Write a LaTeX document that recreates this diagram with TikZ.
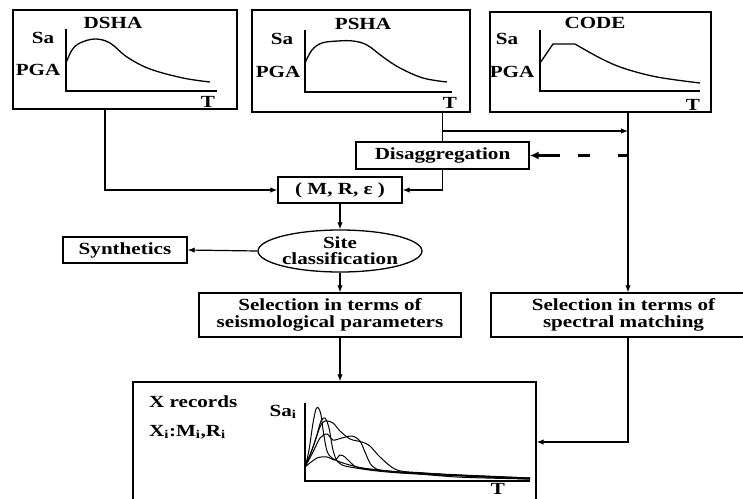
\documentclass[tikz,border=0pt]{standalone}
\usepackage{fontspec}
\setmainfont{Liberation Serif}[FakeStretch=1.24]
\usetikzlibrary{arrows.meta,shapes.geometric}
\newcommand\lbl{\fontsize{17}{17}\selectfont\bfseries}

\tikzset{
  box/.style={draw, line width=1.3pt, inner sep=0pt, font=\lbl, align=center},
  txt/.style={inner sep=0pt, font=\lbl},
  axis/.style={line width=1.2pt},
  spectrum/.style={line width=1.3pt},
  record/.style={line width=1pt},
  arr/.style={line width=1.2pt, -{Latex[length=7pt,width=5.5pt]}},
  link/.style={line width=1.2pt},
  dasharr/.style={line width=2.4pt,
    dash pattern=on 10pt off 28pt on 12pt off 18pt on 60pt off 1pt,
    -{Latex[length=9pt,width=8pt]}},
}

\begin{document}
\begin{tikzpicture}[x=1pt,y=-1pt]
\clip (0,0) rectangle (743,498);
\fill[white] (0,0) rectangle (743,498);

% ---- three hazard spectra ----
\node[box, minimum width=224pt, minimum height=99pt] (dsha) at (125,59.5) {};
\node[box, minimum width=218pt, minimum height=102pt] (psha) at (361,61) {};
\node[box, minimum width=221pt, minimum height=100pt] (code) at (600.5,62) {};

% DSHA spectrum
\node[txt] (dshat) at (113,23) {DSHA};
\node[txt] (dshasa) at (43,38) {Sa};
\node[txt] (dshapga) at (38,70) {PGA};
\node[txt] (dshaT) at (208,102) {T};
\draw[axis] (66,29) -- (66,91) -- (217,91);
\draw[spectrum] plot[smooth, tension=0.6] coordinates {(66,63) (72,50) (80,43) (95,39) (110,43) (127,57) (150,69) (183,78) (210,82)};

% PSHA spectrum
\node[txt] (pshat) at (363,24) {PSHA};
\node[txt] (pshasa) at (282,39) {Sa};
\node[txt] (pshapga) at (278,72) {PGA};
\node[txt] (pshaT) at (450,103) {T};
\draw[axis] (305,30) -- (305,92) -- (452,92);
\draw[spectrum] plot[smooth, tension=0.6] coordinates {(305,63) (312,50) (322,43) (338,41) (353,41) (367,45) (383,57) (400,68) (423,78) (447,82)};

% code spectrum
\node[txt] (codet) at (595,23) {CODE};
\node[txt] (codesa) at (507,39) {Sa};
\node[txt] (codepga) at (512,72) {PGA};
\node[txt] (codeT) at (693,105) {T};
\draw[axis] (540,30) -- (540,91) -- (700,91);
\draw[spectrum] (540,63) -- (553,44) -- (575,44)
  plot[smooth, tension=0.6] coordinates {(575,44) (600,58) (623,68) (657,77) (700,83)};

% ---- process boxes ----
\node[box, minimum width=173pt, minimum height=27pt] (disagg) at (442.5,155.5) {Disaggregation};
\node[box, minimum width=124pt, minimum height=26pt] (mre) at (340,190) {( M, R, ε )};
\node[box, draw, ellipse, minimum width=160pt, minimum height=42pt, align=center,
      font=\fontsize{17}{16}\selectfont\bfseries] (site) at (340,251) {Site\\classification};
\node[box, minimum width=124pt, minimum height=26pt] (synth) at (125,250) {Synthetics};
\node[box, minimum width=262pt, minimum height=44pt] (seis) at (330,315) {Selection in terms of\\seismological parameters};
\node[box, minimum width=265pt, minimum height=44pt] (spec) at (623.5,315) {Selection in terms of\\spectral matching};
\node[box, minimum width=403pt, minimum height=120pt] (out) at (334.5,442) {};

% ---- selected records ----
\node[txt, anchor=west] (xrec) at (149,402) {X records};
\node[txt, anchor=west] (xi) at (149,432) {X\textsubscript{i}:M\textsubscript{i},R\textsubscript{i}};
\node[txt] (sai) at (283,412) {Sa\textsubscript{i}};
\node[txt] (outT) at (498,489) {T};
\draw[axis] (305,403) -- (305,481) -- (530,481);
\draw[record] plot[smooth, tension=0.5] coordinates {(305,468) (309,450) (313,423) (316,409) (318.5,408) (321,415) (323.5,433) (327,451) (332,458) (343,463) (363,468) (400,472) (457,477) (530,479)};
\draw[record] plot[smooth, tension=0.5] coordinates {(305,466) (312,450) (320,427) (325,421) (333,423) (340,431) (350,439) (362,442) (370,446) (380,457) (397,470) (425,473) (470,476) (530,479)};
\draw[record] plot[smooth, tension=0.5] coordinates {(305,467) (313,452) (320,438) (327,434) (333,440) (342,438) (352,436) (360,441) (365,452) (372,466) (385,471) (430,474) (530,478)};
\draw[record] plot[smooth, tension=0.5] coordinates {(305,467) (317,458) (327,457) (335,460) (340,455) (345,457) (350,462) (360,468) (400,472) (530,478)};
\draw[record] plot[smooth, tension=0.5] coordinates {(305,465) (310,455) (316,438) (321,421) (325,418) (329,428) (333,450) (338,462) (350,467) (400,473) (530,479)};

% ---- connectors ----
\coordinate (codeout) at ([xshift=27.5pt]code.south);
\coordinate (split) at (442.5,131);
\draw[arr] ([xshift=-20pt]dsha.south) |- (mre.west);
\draw[link] (psha.south -| disagg.north) -- (disagg.north);
\draw[arr] (split) -- (split -| codeout);
\draw[arr] (disagg.south) |- (mre.east);
\draw[arr] (codeout) -- (codeout |- spec.north);
\draw[dasharr] (codeout |- disagg.east) -- (disagg.east);
\draw[arr] (mre.south) -- (site.north);
\draw[arr] (site.west) -- (synth.east);
\draw[arr] (site.south) -- (site.south |- seis.north);
\draw[arr] (seis.south -| site.south) -- (site.south |- out.north);
\draw[arr] (codeout |- spec.south) |- (out.east);
\end{tikzpicture}
\end{document}
